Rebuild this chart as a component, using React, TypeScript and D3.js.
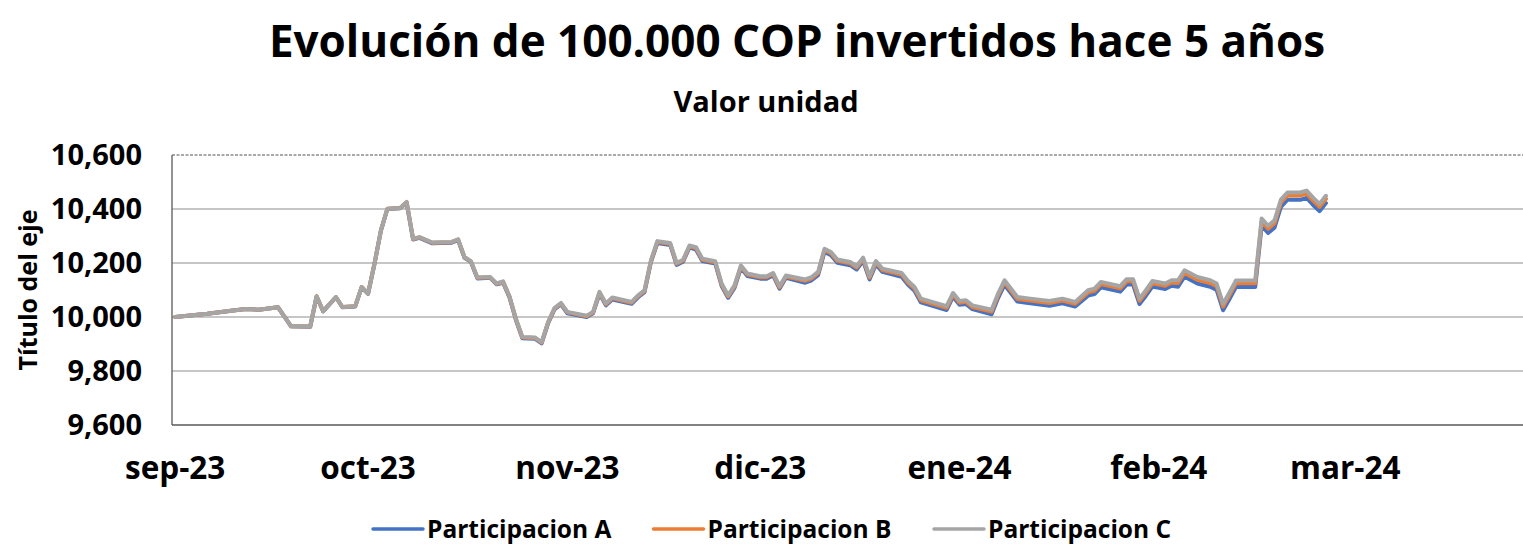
import React, { useEffect } from "react"
import * as d3 from "d3"

// fechas de valoración (eje X)
const dates = [
  "2023-09-01", "2023-09-06", "2023-09-10", "2023-09-12", "2023-09-14", "2023-09-17", "2023-09-19",
  "2023-09-22", "2023-09-23", "2023-09-24", "2023-09-26", "2023-09-27", "2023-09-29", "2023-09-30",
  "2023-10-01", "2023-10-02", "2023-10-03", "2023-10-04", "2023-10-06", "2023-10-07", "2023-10-08",
  "2023-10-09", "2023-10-11", "2023-10-14", "2023-10-15", "2023-10-16", "2023-10-17", "2023-10-18",
  "2023-10-20", "2023-10-21", "2023-10-22", "2023-10-23", "2023-10-24", "2023-10-25", "2023-10-27",
  "2023-10-28", "2023-10-29", "2023-10-30", "2023-10-31",
  "2023-11-01", "2023-11-04", "2023-11-05", "2023-11-06", "2023-11-07", "2023-11-08", "2023-11-11",
  "2023-11-12", "2023-11-13", "2023-11-14", "2023-11-15", "2023-11-17", "2023-11-18", "2023-11-19",
  "2023-11-20", "2023-11-21", "2023-11-22", "2023-11-24", "2023-11-25", "2023-11-26", "2023-11-27",
  "2023-11-28", "2023-11-29",
  "2023-12-01", "2023-12-02", "2023-12-03", "2023-12-04", "2023-12-05", "2023-12-08", "2023-12-09",
  "2023-12-10", "2023-12-11", "2023-12-12", "2023-12-13", "2023-12-15", "2023-12-16", "2023-12-17",
  "2023-12-18", "2023-12-19", "2023-12-20", "2023-12-23", "2023-12-24", "2023-12-25", "2023-12-26",
  "2023-12-30", "2023-12-31",
  "2024-01-01", "2024-01-02", "2024-01-03", "2024-01-06", "2024-01-07", "2024-01-08", "2024-01-10",
  "2024-01-12", "2024-01-15", "2024-01-17", "2024-01-19", "2024-01-21", "2024-01-22", "2024-01-23",
  "2024-01-26", "2024-01-27", "2024-01-28", "2024-01-29", "2024-01-30", "2024-01-31",
  "2024-02-02", "2024-02-03", "2024-02-04", "2024-02-05", "2024-02-07", "2024-02-09", "2024-02-10",
  "2024-02-11", "2024-02-12", "2024-02-13", "2024-02-16", "2024-02-17", "2024-02-18", "2024-02-19",
  "2024-02-20", "2024-02-21", "2024-02-23", "2024-02-24", "2024-02-25", "2024-02-26", "2024-02-27",
]

const participacionA = [
  10000, 10012, 10024, 10030, 10027, 10036, 9966, 9964, 10076, 10021, 10073, 10036, 10039, 10110,
  10086, 10197, 10320, 10400, 10403, 10423, 10287, 10293, 10273, 10275, 10285, 10219, 10204, 10143,
  10145, 10121, 10127, 10072, 9989, 9921, 9919, 9902, 9976, 10028, 10047,
  10014, 10000, 10014, 10086, 10043, 10065, 10049, 10073, 10092, 10203, 10274, 10267, 10193, 10205,
  10258, 10250, 10207, 10198, 10115, 10071, 10108, 10182, 10152,
  10142, 10142, 10154, 10105, 10145, 10127, 10136, 10155, 10241, 10229, 10201, 10192, 10176, 10208,
  10139, 10195, 10167, 10149, 10119, 10097, 10054, 10026, 10075,
  10045, 10048, 10029, 10010, 10070, 10119, 10057, 10051, 10042, 10051, 10039, 10079, 10085, 10110,
  10094, 10120, 10120, 10048, 10079, 10113,
  10104, 10116, 10112, 10149, 10124, 10112, 10100, 10025, 10067, 10111, 10111, 10338, 10311, 10331,
  10408, 10434, 10434, 10441, 10415, 10392, 10422,
]

const participacionB = [
  10000, 10012, 10024, 10030, 10027, 10036, 9966, 9965, 10077, 10022, 10074, 10037, 10040, 10111,
  10087, 10198, 10321, 10401, 10404, 10425, 10289, 10295, 10275, 10277, 10287, 10221, 10206, 10145,
  10147, 10123, 10130, 10075, 9992, 9924, 9922, 9905, 9979, 10031, 10050,
  10017, 10003, 10017, 10090, 10047, 10069, 10053, 10077, 10096, 10207, 10278, 10271, 10197, 10209,
  10262, 10255, 10212, 10203, 10120, 10076, 10113, 10187, 10157,
  10147, 10147, 10159, 10110, 10150, 10134, 10143, 10162, 10248, 10236, 10208, 10199, 10183, 10215,
  10146, 10202, 10174, 10157, 10127, 10105, 10062, 10034, 10083,
  10053, 10056, 10037, 10020, 10080, 10129, 10067, 10061, 10052, 10061, 10049, 10091, 10097, 10122,
  10106, 10132, 10132, 10060, 10091, 10125,
  10116, 10128, 10126, 10163, 10138, 10126, 10114, 10039, 10081, 10125, 10125, 10354, 10327, 10347,
  10424, 10450, 10450, 10457, 10431, 10408, 10438,
]

const participacionC = [
  10000, 10012, 10024, 10030, 10027, 10036, 9966, 9965, 10077, 10022, 10074, 10037, 10040, 10111,
  10087, 10198, 10321, 10401, 10404, 10426, 10290, 10296, 10276, 10278, 10288, 10222, 10207, 10146,
  10148, 10124, 10132, 10077, 9994, 9926, 9924, 9907, 9981, 10033, 10052,
  10019, 10005, 10019, 10093, 10050, 10072, 10056, 10080, 10099, 10210, 10281, 10274, 10200, 10212,
  10265, 10259, 10216, 10207, 10124, 10080, 10117, 10191, 10161,
  10151, 10151, 10163, 10114, 10154, 10139, 10148, 10167, 10253, 10241, 10213, 10204, 10188, 10220,
  10151, 10207, 10179, 10163, 10133, 10111, 10068, 10040, 10089,
  10059, 10062, 10043, 10027, 10087, 10136, 10074, 10068, 10059, 10068, 10056, 10099, 10105, 10130,
  10114, 10140, 10140, 10068, 10099, 10133,
  10124, 10136, 10136, 10173, 10148, 10136, 10124, 10049, 10091, 10135, 10135, 10365, 10338, 10358,
  10435, 10461, 10461, 10468, 10442, 10419, 10449,
]

const seriesNames = ["Participacion A", "Participacion B", "Participacion C"]
const seriesColors = ["#4472C4", "#ED7D31", "#A5A5A5"]
const yTicks = [9600, 9800, 10000, 10200, 10400, 10600]
const monthLabels = ["sep-23", "oct-23", "nov-23", "dic-23", "ene-24", "feb-24", "mar-24"]

const W = 1523
const H = 544
const left = 172
const right = 1522
const top = 155
const bottom = 425
const font = "'Open Sans', sans-serif"

export default function App() {
  useEffect(() => {
    document.body.style.margin = "0"
    document.body.style.overflow = "hidden"
  }, [])

  const parse = d3.utcParse("%Y-%m-%d")
  const x = d3
    .scaleUtc()
    .domain([new Date(Date.UTC(2023, 7, 31, 12)), new Date(Date.UTC(2024, 2, 28, 12))])
    .range([left, right])
  const y = d3.scaleLinear().domain([9600, 10600]).range([bottom, top])

  const months = d3.utcMonth.range(new Date(Date.UTC(2023, 8, 1)), new Date(Date.UTC(2024, 3, 1)))
  const series = [participacionA, participacionB, participacionC]

  const line = d3
    .line<number>()
    .x((_, i) => x(parse(dates[i]) as Date))
    .y(d => y(d))

  const fmt = d3.format(",")

  return (
    <svg width={W} height={H} style={{ display: "block", position: "absolute", left: 0, top: 0 }} fontFamily={font} fontWeight={700}>
      <rect width={W} height={H} fill="#fff" />

      <text x={797} y={57} textAnchor="middle" fontSize={44} fill="#000">
        Evolución de 100.000 COP invertidos hace 5 años
      </text>
      <text x={766} y={112} textAnchor="middle" fontSize={29} fill="#000">
        Valor unidad
      </text>

      {/* rejilla */}
      {yTicks.map(t => {
        const edge = t === 9600 || t === 10600
        return (
          <line
            key={t}
            x1={left}
            x2={W}
            y1={y(t)}
            y2={y(t)}
            stroke={t === 9600 ? "#595959" : t === 10600 ? "#8c8c8c" : "#b3b3b3"}
            strokeWidth={edge ? 1.3 : 1.5}
            strokeDasharray={t === 10600 ? "3 1.5" : undefined}
          />
        )
      })}
      <line x1={left} x2={left} y1={top} y2={bottom} stroke="#595959" strokeWidth={1.3} />

      {yTicks.map(t => (
        <text key={t} x={142} y={y(t)} dy="0.36em" textAnchor="end" fontSize={29} fill="#000">
          {fmt(t)}
        </text>
      ))}

      {months.map((m, i) => (
        <text key={i} x={x(m)} y={479} textAnchor="middle" fontSize={31.5} fill="#000">
          {monthLabels[i]}
        </text>
      ))}

      <text transform={`translate(37,${(top + bottom) / 2}) rotate(-90)`} textAnchor="middle" fontSize={25} fill="#000">
        Título del eje
      </text>

      {series.map((s, i) => (
        <path
          key={seriesNames[i]}
          d={line(s) || ""}
          fill="none"
          stroke={seriesColors[i]}
          strokeWidth={4}
          strokeLinejoin="round"
          strokeLinecap="round"
        />
      ))}

      {seriesNames.map((name, i) => {
        const lx = 373 + i * 280.5
        return (
          <g key={name}>
            <line x1={lx} x2={lx + 50} y1={529} y2={529} stroke={seriesColors[i]} strokeWidth={3.5} strokeLinecap="round" />
            <text x={lx + 54} y={538} fontSize={24.5} fill="#000">
              {name}
            </text>
          </g>
        )
      })}
    </svg>
  )
}
